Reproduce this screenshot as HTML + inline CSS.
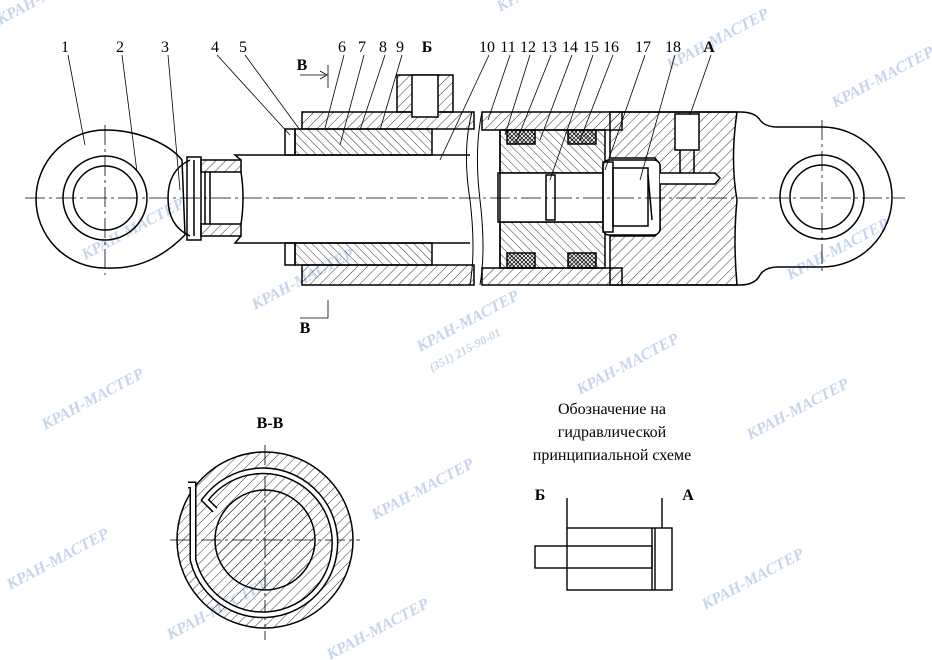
<!DOCTYPE html>
<html><head><meta charset="utf-8"><style>
body{margin:0;background:#fff}
svg{display:block}
text{font-family:"Liberation Serif",serif}
.wm{font-family:"Liberation Sans",sans-serif;font-weight:bold;fill:#c5d5ec;font-style:italic}
</style></head><body>
<svg width="932" height="660" viewBox="0 0 932 660" xmlns="http://www.w3.org/2000/svg">
<defs>
<pattern id="h" width="7" height="7" patternUnits="userSpaceOnUse" patternTransform="rotate(45)"><line x1="0" y1="0" x2="0" y2="7" stroke="#000" stroke-width="0.8"/></pattern>
<pattern id="h2" width="6" height="6" patternUnits="userSpaceOnUse" patternTransform="rotate(-45)"><line x1="0" y1="0" x2="0" y2="6" stroke="#000" stroke-width="0.8"/></pattern>
<pattern id="x" width="4" height="4" patternUnits="userSpaceOnUse"><path d="M0 0L4 4M4 0L0 4" stroke="#000" stroke-width="0.7"/></pattern>
</defs>
<!-- watermarks -->
<g class="wm">
<text transform="translate(420,352) rotate(-28)" font-size="16">КРАН-МАСТЕР</text>
<text transform="translate(432,372) rotate(-28)" font-size="12">(351) 215-90-01</text>
<text transform="translate(580,395) rotate(-28)" font-size="16">КРАН-МАСТЕР</text>
<text transform="translate(45,430) rotate(-28)" font-size="16">КРАН-МАСТЕР</text>
<text transform="translate(750,440) rotate(-28)" font-size="16">КРАН-МАСТЕР</text>
<text transform="translate(375,520) rotate(-28)" font-size="16">КРАН-МАСТЕР</text>
<text transform="translate(10,590) rotate(-28)" font-size="16">КРАН-МАСТЕР</text>
<text transform="translate(705,610) rotate(-28)" font-size="16">КРАН-МАСТЕР</text>
<text transform="translate(170,640) rotate(-28)" font-size="16">КРАН-МАСТЕР</text>
<text transform="translate(330,660) rotate(-28)" font-size="16">КРАН-МАСТЕР</text>
<text transform="translate(835,108) rotate(-28)" font-size="16">КРАН-МАСТЕР</text>
<text transform="translate(670,70) rotate(-28)" font-size="16">КРАН-МАСТЕР</text>
<text transform="translate(790,280) rotate(-28)" font-size="16">КРАН-МАСТЕР</text>
<text transform="translate(255,310) rotate(-28)" font-size="16">КРАН-МАСТЕР</text>
<text transform="translate(85,260) rotate(-28)" font-size="16">КРАН-МАСТЕР</text>
<text transform="translate(500,12) rotate(-28)" font-size="16">КРАН-МАСТЕР</text>
<text transform="translate(0,25) rotate(-28)" font-size="16">КРАН-МАСТЕР</text>
</g>
<g fill="none" stroke="#000" stroke-width="1.5">
<!-- left eye -->
<path d="M105 130 C140 130 170 145 182 160 L185 235 C165 255 140 270 105 268 A69 69 0 1 1 105 130 Z"/>
<circle cx="105" cy="198" r="42"/><circle cx="105" cy="198" r="32"/>
<!-- ball head -->
<path d="M190 160 Q168 170 168 198 Q168 226 190 236"/>
<rect x="187" y="157" width="14" height="83"/>
<line x1="194" y1="160" x2="194" y2="236"/>
<rect x="201" y="160" width="40" height="12" fill="url(#h)"/>
<rect x="201" y="224" width="40" height="12" fill="url(#h)"/>
<path d="M205 172 L205 224 M210 172 L210 224"/>
<path d="M241 160 L235 155 L470 155 M241 236 L235 243 L470 243"/>
<path d="M241 172 Q245 198 241 224"/>
<!-- tube left part -->
<rect x="302" y="112" width="172" height="17" fill="url(#h)"/>
<rect x="302" y="265" width="172" height="20" fill="url(#h)"/>
<!-- gland -->
<rect x="295" y="129" width="137" height="26" fill="url(#h2)"/>
<rect x="295" y="243" width="137" height="22" fill="url(#h2)"/>
<rect x="285" y="129" width="10" height="26"/><rect x="285" y="243" width="10" height="22"/>
<!-- port Б -->
<rect x="397" y="75" width="56" height="37" fill="url(#h)"/><rect x="412" y="75" width="26" height="42" fill="#fff"/>
<!-- tube right -->
<rect x="482" y="112" width="140" height="18" fill="url(#h)"/>
<rect x="482" y="268" width="140" height="17" fill="url(#h)"/>
<!-- piston -->
<rect x="500" y="130" width="105" height="43" fill="url(#h2)"/>
<rect x="500" y="222" width="105" height="46" fill="url(#h2)"/>
<rect x="507" y="130" width="28" height="14" fill="url(#x)"/><rect x="568" y="130" width="28" height="14" fill="url(#x)"/>
<rect x="507" y="253" width="28" height="15" fill="url(#x)"/><rect x="568" y="253" width="28" height="15" fill="url(#x)"/>
<rect x="498" y="173" width="110" height="49" fill="#fff"/>
<line x1="500" y1="130" x2="500" y2="268"/>
<rect x="546" y="175" width="9" height="45"/>
<!-- end cap -->
<path d="M610 112 L737 112 Q730 160 737 200 Q733 240 737 285 L610 285 L610 236 L655 236 L660 230 L660 165 L655 158 L610 158 Z" fill="url(#h)"/>
<rect x="603" y="160" width="57" height="75" rx="6" fill="#fff"/>
<rect x="603" y="162" width="10" height="70"/>
<rect x="613" y="168" width="35" height="58"/>
<line x1="648" y1="175" x2="652" y2="220"/>
<rect x="675" y="114" width="24" height="36" fill="#fff"/>
<path d="M680 150 L680 172 L687 178 L694 172 L694 150"/>
<path d="M660 173 L715 173 L720 178 L715 184 L660 184" fill="#fff"/>
<!-- right lug -->
<path d="M740 112 Q755 112 760 120 Q765 127 778 127 L822 127 A70 70 0 0 1 822 267 L778 267 Q765 267 760 275 Q755 285 740 285"/>
<line x1="622" y1="112" x2="740" y2="112"/><line x1="622" y1="285" x2="740" y2="285"/>
<circle cx="822" cy="197" r="42"/><circle cx="822" cy="197" r="32"/>
<!-- break lines -->
<path d="M472 112 Q462 150 470 200 Q476 250 470 285 M482 112 Q474 150 480 200 Q486 250 480 285" stroke-width="1"/>
</g>
<!-- centre lines -->
<g stroke="#000" stroke-width="0.8" stroke-dasharray="20 4 3 4">
<line x1="25" y1="198" x2="905" y2="198"/>
<line x1="105" y1="125" x2="105" y2="275"/><line x1="822" y1="120" x2="822" y2="272"/>
<line x1="265" y1="445" x2="265" y2="640"/><line x1="170" y1="540" x2="360" y2="540"/>
</g>
<!-- leaders -->
<g stroke="#000" stroke-width="0.8" fill="none">
<line x1="68" y1="55" x2="85" y2="145"/><line x1="122" y1="55" x2="137" y2="172"/>
<line x1="168" y1="55" x2="180" y2="190"/><line x1="217" y1="55" x2="290" y2="135"/>
<line x1="245" y1="55" x2="300" y2="130"/><line x1="344" y1="55" x2="325" y2="128"/>
<line x1="364" y1="55" x2="340" y2="145"/><line x1="385" y1="55" x2="360" y2="130"/>
<line x1="402" y1="55" x2="380" y2="130"/><line x1="489" y1="55" x2="440" y2="160"/>
<line x1="510" y1="55" x2="488" y2="120"/><line x1="530" y1="55" x2="505" y2="135"/>
<line x1="551" y1="55" x2="515" y2="145"/><line x1="572" y1="55" x2="540" y2="140"/>
<line x1="593" y1="55" x2="550" y2="180"/><line x1="613" y1="55" x2="580" y2="140"/>
<line x1="645" y1="55" x2="605" y2="170"/><line x1="675" y1="55" x2="640" y2="180"/>
<line x1="711" y1="55" x2="690" y2="115"/>
<path d="M300 75 L325 75 M320 71 L327 75 L320 79 M328 65 L328 88 M328 300 L328 318 M300 318 L328 318"/>
</g>
<g font-size="16" text-anchor="middle">
<text x="65" y="52">1</text><text x="120" y="52">2</text><text x="165" y="52">3</text><text x="215" y="52">4</text><text x="243" y="52">5</text>
<text x="342" y="52">6</text><text x="362" y="52">7</text><text x="383" y="52">8</text><text x="400" y="52">9</text>
<text x="487" y="52">10</text><text x="508" y="52">11</text><text x="528" y="52">12</text><text x="549" y="52">13</text><text x="570" y="52">14</text><text x="591" y="52">15</text><text x="611" y="52">16</text><text x="643" y="52">17</text><text x="673" y="52">18</text>
<text x="427" y="52" font-weight="bold">Б</text><text x="709" y="52" font-weight="bold">А</text>
<text x="302" y="70" font-weight="bold">В</text><text x="305" y="333" font-weight="bold">В</text>
<text x="270" y="428" font-weight="bold">В-В</text>
<text x="612" y="414">Обозначение на</text><text x="612" y="437">гидравлической</text><text x="612" y="460">принципиальной схеме</text>
<text x="540" y="500" font-weight="bold">Б</text><text x="688" y="500" font-weight="bold">А</text>
</g>
<!-- section B-B -->
<g stroke="#000" stroke-width="1.5" fill="none">
<circle cx="265" cy="540" r="88" fill="url(#h)"/>
<circle cx="265" cy="540" r="50" fill="url(#h)"/>
<path d="M188 485 L193 485 L193 560 A72 72 0 1 0 205 500 L215 510" stroke-width="7" stroke="#000"/>
<path d="M188 485 L193 485 L193 560 A72 72 0 1 0 205 500 L215 510" stroke-width="4" stroke="#fff"/>
</g>
<!-- symbol -->
<g stroke="#000" stroke-width="1.4" fill="none">
<rect x="567" y="528" width="105" height="62"/>
<line x1="655" y1="528" x2="655" y2="590"/>
<line x1="652" y1="528" x2="652" y2="590"/>
<rect x="535" y="546" width="117" height="22"/>
<line x1="567" y1="498" x2="567" y2="528"/><line x1="662" y1="498" x2="662" y2="528"/>
</g>
</svg>
</body></html>
